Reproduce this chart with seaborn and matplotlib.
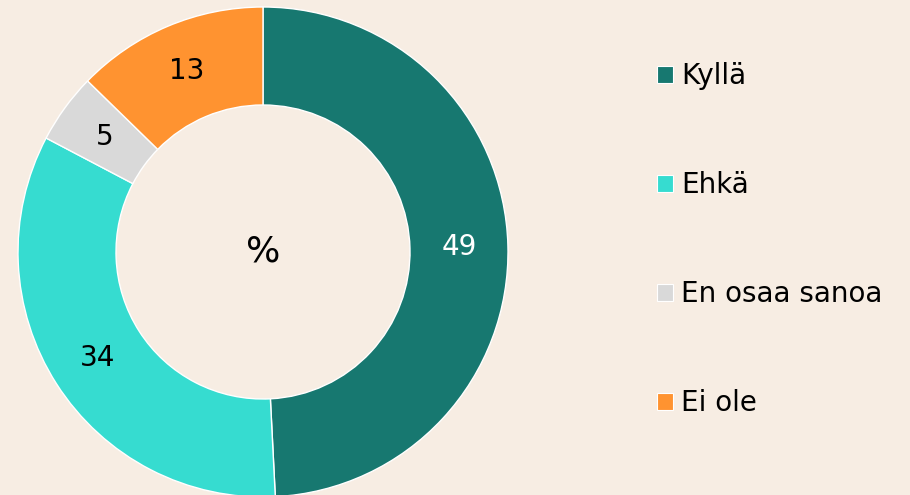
import numpy as np
import pandas as pd
import seaborn as sns
import matplotlib.pyplot as plt
from matplotlib.patches import Patch

categories = ['Kyllä', 'Ehkä', 'En osaa sanoa', 'Ei ole']
shares = [49.2, 33.5, 4.6, 12.7]
labels = ['49', '34', '5', '13']
colors = ['#177870', '#36DCD0', '#D9D9D9', '#FF9330']
label_colors = ['white', 'black', 'black', 'black']

sns.set_theme(style='white')
plt.rcParams['font.family'] = ['DejaVu Sans']
bg = '#F7EDE3'

fig = plt.figure(figsize=(9.1, 4.95), dpi=100, facecolor=bg)
ax = fig.add_axes([18 / 910, -2 / 495, 490 / 910, 490 / 495])
ax.set_facecolor(bg)

# clockwise from the top
wedges, texts, autotexts = ax.pie(
    shares, colors=colors, startangle=90, counterclock=False,
    radius=1, wedgeprops=dict(width=0.4, edgecolor='white', linewidth=1),
    autopct=lambda p: '', pctdistance=0.8)
for t, lab, c in zip(autotexts, labels, label_colors):
    t.set_text(lab)
    t.set_color(c)
    t.set_fontsize(20)

ax.text(0, 0, '%', ha='center', va='center', fontsize=26, color='black')
ax.set_xlim(-1, 1)
ax.set_ylim(-1, 1)
ax.set_aspect('equal')
ax.axis('off')

handles = [Patch(facecolor=c, edgecolor='white', linewidth=0.8) for c in colors]
fig.legend(handles, categories, loc='upper left', bbox_to_anchor=(0.695, 0.925),
           frameon=False, fontsize=20, handlelength=0.55, handleheight=0.55,
           handletextpad=0.3, labelspacing=2.92, labelcolor='black')

fig.savefig('out.png', dpi=100, facecolor=bg)
